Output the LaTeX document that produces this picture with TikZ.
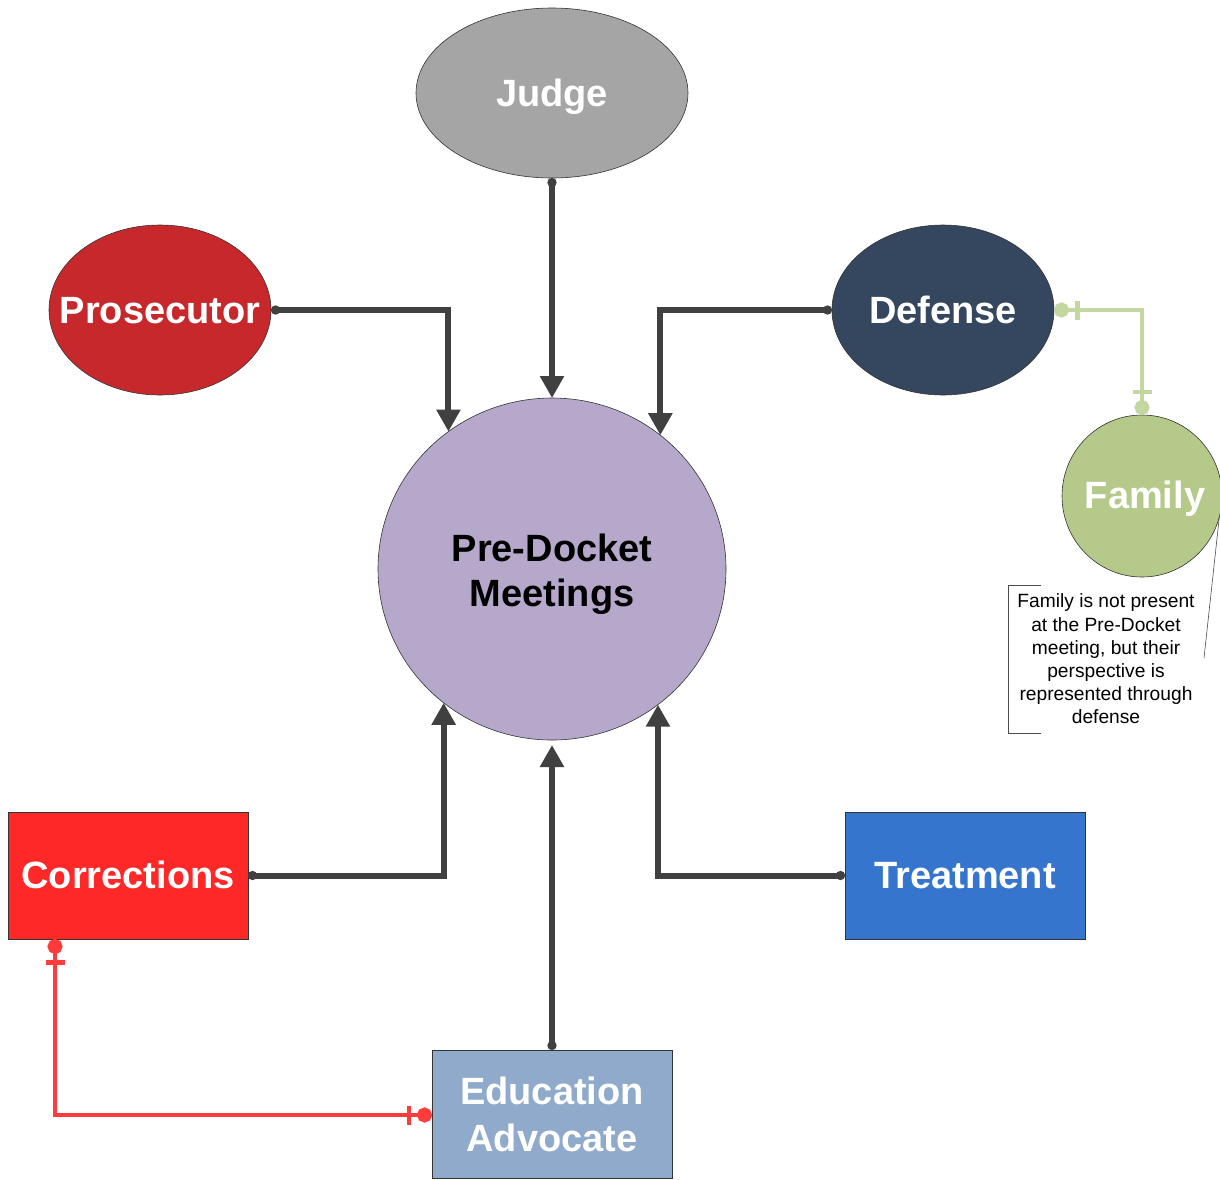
\documentclass[tikz,border=0pt]{standalone}
\usepackage{fontspec}
\setmainfont{Liberation Sans}
\usetikzlibrary{shapes.geometric,arrows.meta,calc}
\definecolor{judgegray}{HTML}{A5A5A5}
\definecolor{prosred}{HTML}{C7282B}
\definecolor{defnavy}{HTML}{34475F}
\definecolor{famgreen}{HTML}{B5C98A}
\definecolor{pdmlilac}{HTML}{B5A8CA}
\definecolor{correct}{HTML}{FF2828}
\definecolor{treatblue}{HTML}{3575CE}
\definecolor{edublue}{HTML}{8FAACB}
\definecolor{linkgray}{HTML}{404040}
\definecolor{linkgreen}{HTML}{C5D7A0}
\definecolor{linkred}{HTML}{FF3B3B}
\begin{document}
\begin{tikzpicture}[x=1pt,y=-1pt,
  party/.style={ellipse, draw=black!80, line width=0.6pt, inner sep=0pt, outer sep=0pt},
  caption/.style={inner sep=0pt, align=center, text=white,
    font=\fontsize{38}{45}\selectfont\bfseries},
  office/.style={rectangle, draw=black!80, line width=0.6pt, inner sep=0pt, outer sep=0pt,
    minimum width=240, minimum height=127},
  feed/.style={draw=linkgray, line width=6pt,
    {Circle[length=9pt]}-{Triangle[width=23pt,length=22pt]}},
  aside/.style={line width=4.5pt, {Circle[length=15pt] Bar[width=19pt,sep=6pt]}-{Bar[width=19pt,sep=6pt] Circle[length=15pt]}},
  note/.style={align=center, font=\fontsize{19.2}{23.2}\selectfont, text=black}
]
\useasboundingbox (0,0) rectangle (1220,1179);

% participants
\node[party, fill=judgegray, minimum width=272, minimum height=170] (judge) at (552,93) {};
\node[party, fill=prosred, minimum width=222, minimum height=170] (pros) at (160,310) {};
\node[party, fill=defnavy, minimum width=222, minimum height=170] (def) at (943,310) {};
\node[party, fill=famgreen, minimum width=160, minimum height=162] (fam) at (1142,496) {};
\node[party, fill=pdmlilac, minimum width=348, minimum height=342] (pdm) at (552,569) {};

\node[office, fill=correct] (cor) at (128,875.5) {};
\node[office, fill=treatblue] (treat) at (965,875.5) {};
\node[office, fill=edublue, minimum height=128] (edu) at (552,1114) {};

% their names
\node[caption] (judgename) at (552,97) {\vphantom{Jg}Judge};
\node[caption] (prosname) at (160,314) {\vphantom{Jg}Prosecutor};
\node[caption] (defname) at (943,314) {\vphantom{Jg}Defense};
\node[caption] (famname) at (1145,499) {\vphantom{Jg}Family};
\node[caption, text=black] (pdmname) at (552,574) {Pre-Docket\\Meetings};
\node[caption] (corname) at (128,879) {\vphantom{Jg}Corrections};
\node[caption] (treatname) at (965,879) {\vphantom{Jg}Treatment};
\node[caption, font=\fontsize{38}{47}\selectfont\bfseries] (eduname) at (552,1114) {Education\\Advocate};

% input lines into the meeting
\draw[feed] (pros.east) -| (pdm.127.6);
\draw[feed] (judge.south) -- (pdm.north);
\draw[feed] (def.west) -| (pdm.51.2);
\draw[feed] (cor.east) -| (pdm.231.6);
\draw[feed] (edu.north) -- ($(pdm.south)+(0,5)$);
\draw[feed] (treat.west) -| (pdm.308.8);

% side relations
\draw[aside, draw=linkgreen] (def.east) -| (fam.north);
\coordinate (corfoot) at ($(cor.south west)+(47,0)$);
\draw[aside, draw=linkred] (corfoot) |- ($(edu.west)+(0,1)$);

% note about the family
\node[note] (famnote) at (1106,659) {Family is not present\\at the Pre-Docket\\meeting, but their\\perspective is\\represented through\\defense};
\draw[black!70, line width=0.6pt] (1041,585) -- (1008,585) -- (1008,733) -- (1041,733);
\coordinate (noteend) at (1204,658);
\draw[black!70, line width=0.6pt] (noteend) -- (fam.-15);
\end{tikzpicture}
\end{document}
